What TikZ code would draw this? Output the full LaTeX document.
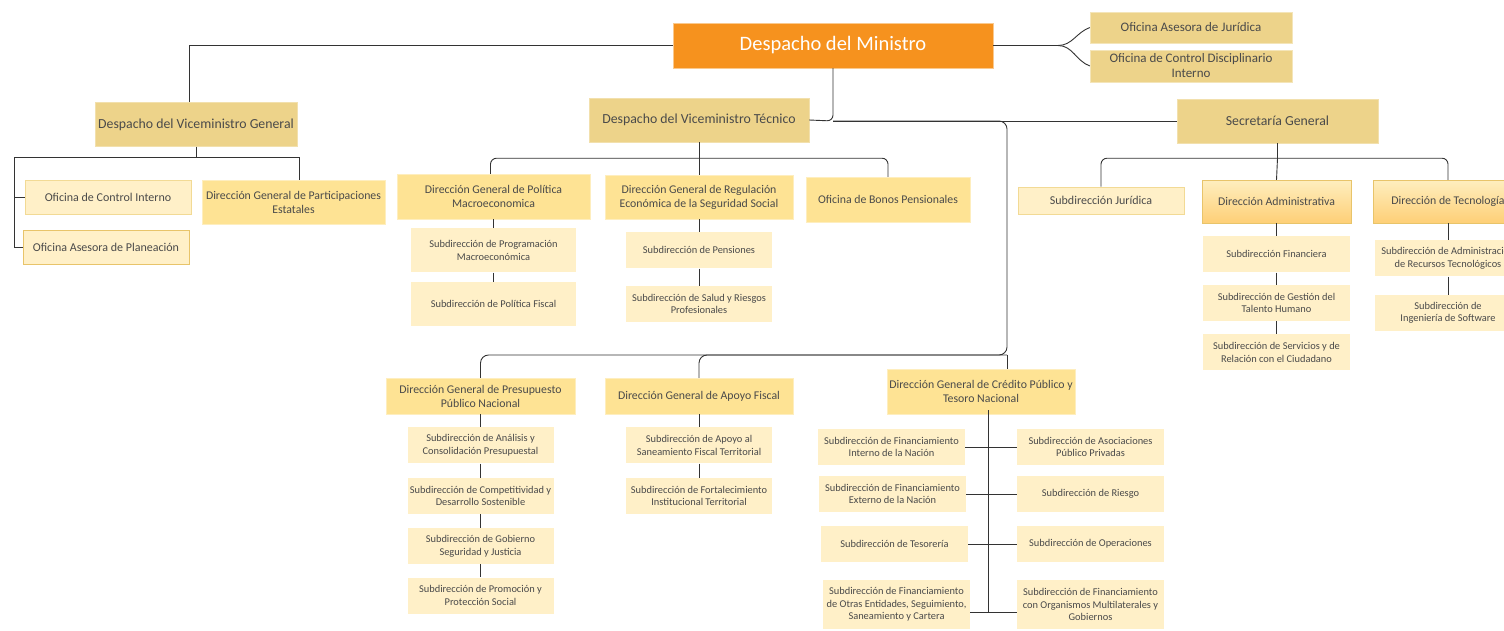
\documentclass[tikz,border=0pt]{standalone}
\usepackage{fontspec}
\setmainfont{Carlito}
\usepackage{tikz}
\usetikzlibrary{positioning}
\definecolor{naranja}{HTML}{F6921E}
\definecolor{arena}{HTML}{EDD38A}
\definecolor{amarillo}{HTML}{FEE394}
\definecolor{crema}{HTML}{FFF0C8}
\definecolor{borde}{HTML}{F2DA95}
\definecolor{bordeoscuro}{HTML}{E8C46A}
\definecolor{texto}{HTML}{4A4A4A}
\definecolor{trazo}{HTML}{333333}
\tikzstyle{caja} = [rectangle, align=center, inner sep=2pt, text=texto]
\tikzstyle{ministro} = [caja, fill=naranja, draw=naranja!50!white, text=white, minimum width=320pt, minimum height=45pt, font=\fontsize{20.5}{22}\selectfont]
\tikzstyle{despacho} = [caja, fill=arena, draw=arena!70!white, minimum width=202pt, minimum height=44pt, font=\fontsize{13.8}{15}\selectfont]
\tikzstyle{asesora} = [caja, fill=arena, draw=arena!60!white, minimum width=202pt, minimum height=31pt, font=\fontsize{13}{14}\selectfont]
\tikzstyle{direccion} = [caja, fill=amarillo, draw=amarillo!60!white, minimum width=188pt, minimum height=44pt, font=\fontsize{11.8}{14}\selectfont]
\tikzstyle{oficina} = [caja, fill=crema, draw=borde, thick, minimum width=166pt, minimum height=34pt, font=\fontsize{12}{13}\selectfont]
\tikzstyle{degradado} = [caja, top color=amarillo!60!white, bottom color=amarillo!80!orange, draw=bordeoscuro, minimum width=149pt, minimum height=43pt, font=\fontsize{11.8}{13}\selectfont]
\tikzstyle{subdir} = [caja, fill=crema, minimum width=146pt, minimum height=36pt, font=\fontsize{10.4}{12.5}\selectfont]
\tikzstyle{linea} = [draw=trazo, line width=0.9pt]

\begin{document}
\begin{tikzpicture}[x=1pt, y=-1pt]
\clip (0,0) rectangle (1504,630);
\fill[white] (0,0) rectangle (1504,630);

% nivel superior
\node [ministro] (ministro) at (833,45.5) {Despacho del Ministro};
\node [asesora] (juridica) at (1191,27.5) {Oficina Asesora de Jurídica};
\node [asesora, minimum height=32pt, font=\fontsize{13}{15}\selectfont] (disciplinario) at (1191,66) {Oficina de Control Disciplinario\\Interno};
\node [despacho] (vgeneral) at (196,124.5) {Despacho del Viceministro General};
\node [despacho, minimum width=220pt] (vtecnico) at (699,120) {Despacho del Viceministro Técnico};
\node [despacho, minimum width=201pt] (sgeneral) at (1277.5,121) {Secretaría General};

% viceministro general
\node [oficina] (control) at (108,197) {Oficina de Control Interno};
\node [oficina, draw=bordeoscuro] (planeacion) at (106,247) {Oficina Asesora de Planeación};
\node [direccion, minimum width=183pt] (participaciones) at (293.5,202) {Dirección General de Participaciones\\Estatales};

% viceministro tecnico
\node [direccion, minimum width=193pt, minimum height=45pt] (macro) at (493.5,196.5) {Dirección General de Política\\Macroeconomica};
\node [subdir, minimum width=165pt, minimum height=44pt, below=9pt of macro] (programacion) {Subdirección de Programación\\Macroeconómica};
\node [subdir, minimum width=165pt, minimum height=44pt, below=9pt of programacion] (fiscal) {Subdirección de Política Fiscal};
\node [direccion] (regulacion) at (699,197) {Dirección General de Regulación\\Económica de la Seguridad Social};
\node [subdir, below=13pt of regulacion] (pensiones) {Subdirección de Pensiones};
\node [subdir, below=17pt of pensiones] (salud) {Subdirección de Salud y Riesgos\\Profesionales};
\node [direccion, minimum width=164pt, minimum height=45pt] (bonos) at (888,199.5) {Oficina de Bonos Pensionales};

\node [direccion, minimum width=189pt, minimum height=36pt] (presupuesto) at (480.5,396) {Dirección General de Presupuesto\\Público Nacional};
\node [subdir, below=13pt of presupuesto] (analisis) {Subdirección de Análisis y\\Consolidación Presupuestal};
\node [subdir, below=14pt of analisis] (competitividad) {Subdirección de Competitividad y\\Desarrollo Sostenible};
\node [subdir, below=14pt of competitividad] (gobierno) {Subdirección de Gobierno\\Seguridad y Justicia};
\node [subdir, below=13pt of gobierno] (promocion) {Subdirección de Promoción y\\Protección Social};
\node [direccion, minimum height=36pt] (apoyo) at (699,396) {Dirección General de Apoyo Fiscal};
\node [subdir, below=13pt of apoyo] (saneamiento) {Subdirección de Apoyo al\\Saneamiento Fiscal Territorial};
\node [subdir, below=14pt of saneamiento] (fortalecimiento) {Subdirección de Fortalecimiento\\Institucional Territorial};

\node [direccion, minimum height=45pt] (credito) at (981,391.5) {Dirección General de Crédito Público y\\Tesoro Nacional};
\node [subdir, minimum width=147pt] (interno) at (891.5,447) {Subdirección de Financiamiento\\Interno de la Nación};
\node [subdir, minimum width=147pt] (externo) at (892.5,494) {Subdirección de Financiamiento\\Externo de la Nación};
\node [subdir, minimum width=147pt] (tesoreria) at (894.5,544) {Subdirección de Tesorería};
\node [subdir, minimum width=147pt, minimum height=49pt] (otras) at (896.5,604.5) {Subdirección de Financiamiento\\de Otras Entidades, Seguimiento,\\Saneamiento y Cartera};
\node [subdir, minimum width=147pt] (asociaciones) at (1090.5,447) {Subdirección de Asociaciones\\Público Privadas};
\node [subdir, minimum width=147pt] (riesgo) at (1090.5,494) {Subdirección de Riesgo};
\node [subdir, minimum width=147pt] (operaciones) at (1090.5,544) {Subdirección de Operaciones};
\node [subdir, minimum width=147pt, minimum height=49pt] (multilaterales) at (1090.5,604.5) {Subdirección de Financiamiento\\con Organismos Multilaterales y\\Gobiernos};

% secretaria general
\node [oficina, minimum height=27pt] (subjuridica) at (1101,200.5) {Subdirección Jurídica};
\node [degradado] (administrativa) at (1276.5,201.5) {Dirección Administrativa};
\node [subdir, minimum width=147pt, below=13pt of administrativa] (financiera) {Subdirección Financiera};
\node [subdir, minimum width=147pt, below=12pt of financiera] (talento) {Subdirección de Gestión del\\Talento Humano};
\node [subdir, minimum width=147pt, below=13pt of talento] (servicios) {Subdirección de Servicios y de\\Relación con el Ciudadano};
\node [degradado, minimum width=150pt] (tecnologia) at (1448,201.5) {Dirección de Tecnología};
\node [subdir, below=17pt of tecnologia] (recursos) {Subdirección de Administración\\de Recursos Tecnológicos};
\node [subdir, below=18pt of recursos] (software) {Subdirección de\\Ingeniería de Software};

% conectores
\coordinate (bif) at (1058,45.5);
\coordinate (jt) at (833,121);
\coordinate (jc) at (1007,355);
\coordinate (jcr) at (988,410);
\coordinate (jfin) at (988,612);
\draw [linea] (ministro.west) -| ([xshift=-7pt]vgeneral.north);
\draw [linea] (ministro.east) -- (bif);
\draw [linea] (bif) to[out=0, in=200] (juridica.west);
\draw [linea] (bif) to[out=0, in=160] (disciplinario.west);
\draw [linea, rounded corners=6pt] (ministro.south) -- (jt) -- (vtecnico.east);
\draw [linea] (jt) -- (sgeneral.west);
\draw [linea, rounded corners=8pt] (jt) -| (jc) -| (presupuesto.north);
\draw [linea, rounded corners=8pt] (jc) -| (apoyo.north);
\draw [linea] (jc) -- (jc |- credito.north);

\draw [linea] (vgeneral.south) -- ++(0,11) coordinate (jvg);
\draw [linea] (jvg) -| ([xshift=6pt]participaciones.north);
\draw [linea] (jvg) -| ([xshift=-8pt]planeacion.west) -- (planeacion.west);
\draw [linea] ([xshift=-10pt]control.west) -- (control.west);

\draw [linea] (vtecnico.south) -- ++(0,16) coordinate (jtec);
\draw [linea, rounded corners=6pt] (jtec) -| ([xshift=-3pt]macro.north);
\draw [linea, rounded corners=6pt] (jtec) -| (bonos.north);
\draw [linea] (jtec) -- (regulacion.north);
\draw [linea] (macro) -- (programacion) -- (fiscal);
\draw [linea] (regulacion) -- (pensiones) -- (salud);
\draw [linea] (presupuesto) -- (analisis) -- (competitividad) -- (gobierno) -- (promocion);
\draw [linea] (apoyo) -- (saneamiento) -- (fortalecimiento);

\draw [linea] (jcr) -- (jfin);
\draw [linea] (interno) -- (asociaciones);
\draw [linea] (externo) -- (riesgo);
\draw [linea] (tesoreria) -- (operaciones);
\draw [linea] (otras.east |- jfin) -- (multilaterales.west |- jfin);

\draw [linea] (sgeneral.south) -- ++(0,15) coordinate (jsec);
\draw [linea, rounded corners=6pt] (jsec) -| (subjuridica.north);
\draw [linea, rounded corners=6pt] (jsec) -| (tecnologia.north);
\draw [linea] (jsec) -- (administrativa.north);
\draw [linea] (administrativa) -- (financiera) -- (talento) -- (servicios);
\draw [linea] (tecnologia) -- (recursos) -- (software);
\end{tikzpicture}
\end{document}
